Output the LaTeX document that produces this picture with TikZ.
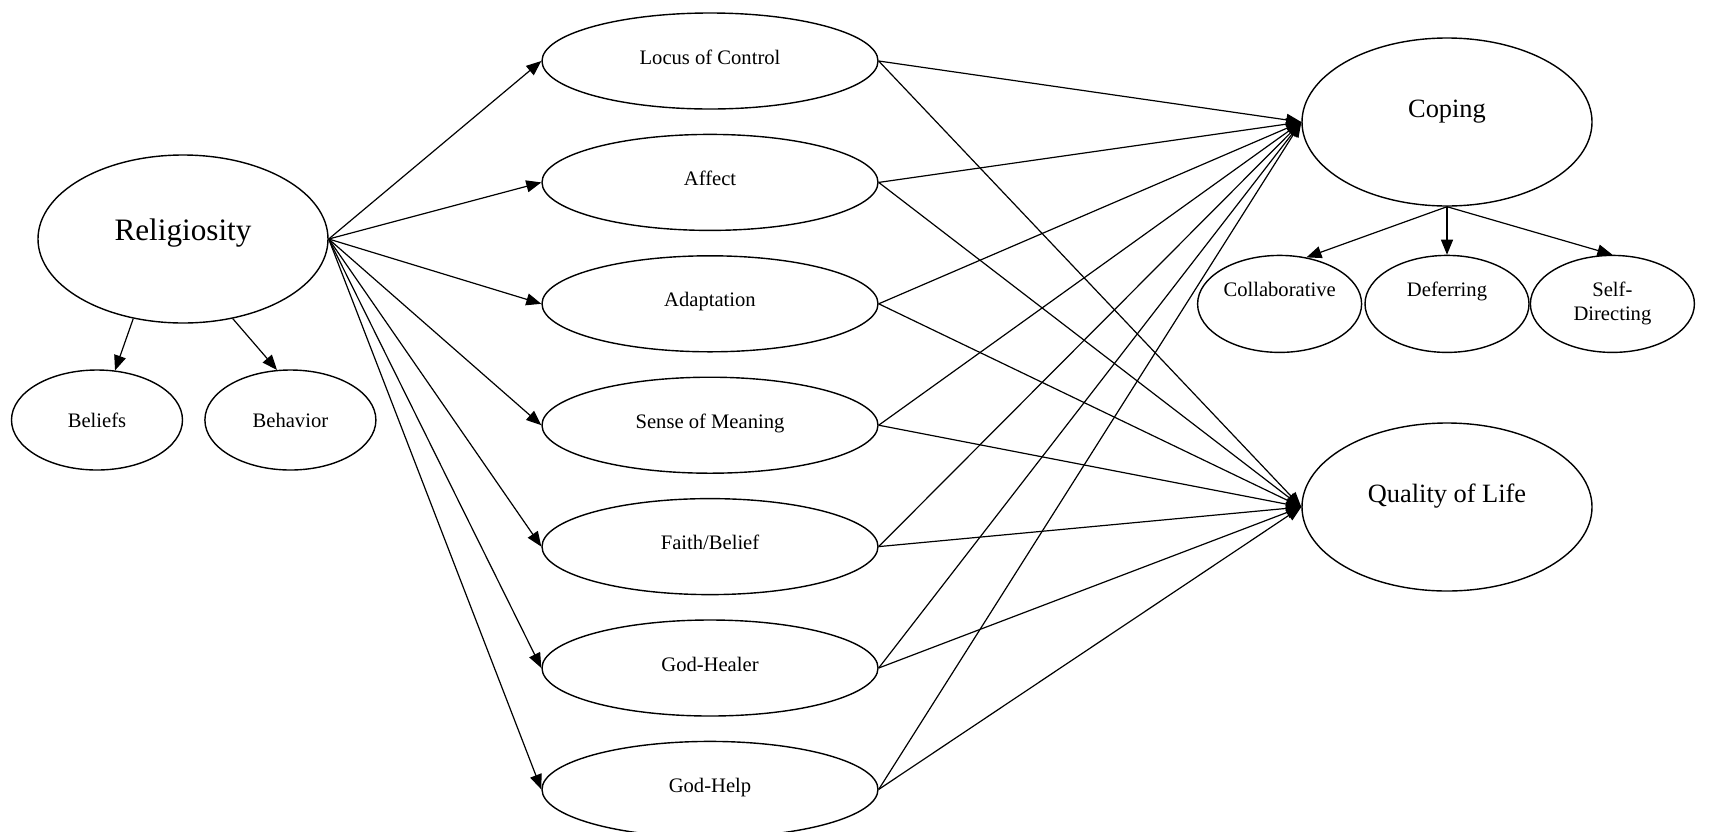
\documentclass[tikz,border=0pt]{standalone}
\usepackage{fontspec}
\setmainfont{Liberation Serif}
\usetikzlibrary{shapes,arrows.meta,positioning}

\begin{document}
\begin{tikzpicture}[
    x=0.5pt, y=-0.5pt,
    node distance=12pt,
    >={Triangle[length=7.5pt, width=6pt]},
    oval/.style={draw, ellipse, inner sep=0pt, line width=0.7pt, align=center},
    big/.style={oval, minimum width=145pt, minimum height=84pt, font=\fontsize{13.2}{15}\selectfont, text height=9pt, text depth=14pt},
    mid/.style={oval, minimum width=168pt, minimum height=48pt, font=\fontsize{10.3}{12}\selectfont, text height=7pt, text depth=4pt},
    small/.style={oval, minimum width=82pt, minimum height=48.5pt, font=\fontsize{10.3}{12}\selectfont},
    dim/.style={oval, minimum width=85.5pt, minimum height=50pt, font=\fontsize{10.3}{12}\selectfont},
    up/.style={text height=7pt, text depth=14pt},
    line/.style={->, line width=0.6pt}
]
    \useasboundingbox (0,0) rectangle (1723,831);

    % left side
    \node[big, font=\fontsize{15.6}{18}\selectfont, text height=11pt, text depth=9.5pt] (rel) at (183,239) {Religiosity};
    \node[dim] (bel) at (97,420) {Beliefs};
    \node[dim, right=10.5pt of bel] (beh) {Behavior};

    % middle column
    \node[mid] (loc) at (710,61) {Locus of Control};
    \node[mid, below=of loc] (aff) {Affect};
    \node[mid, below=of aff] (ada) {Adaptation};
    \node[mid, below=of ada] (mea) {Sense of Meaning};
    \node[mid, below=of mea] (fai) {Faith/Belief};
    \node[mid, below=of fai] (hea) {God-Healer};
    \node[mid, below=of hea] (hel) {God-Help};

    % right side
    \node[big] (cop) at (1447,122) {Coping};
    \node[small, up, below=24pt of cop] (def) {Deferring};
    \node[small, up, left=1pt of def] (col) {Collaborative};
    \node[small, right=0pt of def] (sdr) {Self-\\Directing};
    \node[big] (qol) at (1447,507) {Quality of Life};

    \draw[line] (rel.238) -- (bel.70);
    \draw[line] (rel.302) -- (beh.105);

    \draw[line] (rel.east) -- (loc.west);
    \draw[line] (rel.east) -- (aff.west);
    \draw[line] (rel.east) -- (ada.west);
    \draw[line] (rel.east) -- (mea.west);
    \draw[line] (rel.east) -- (fai.west);
    \draw[line] (rel.east) -- (hea.west);
    \draw[line] (rel.east) -- (hel.west);

    \draw[line] (loc.east) -- (cop.west);
    \draw[line] (aff.east) -- (cop.west);
    \draw[line] (ada.east) -- (cop.west);
    \draw[line] (mea.east) -- (cop.west);
    \draw[line] (fai.east) -- (cop.west);
    \draw[line] (hea.east) -- (cop.west);
    \draw[line] (hel.east) -- (cop.west);

    \draw[line] (loc.east) -- (qol.west);
    \draw[line] (aff.east) -- (qol.west);
    \draw[line] (ada.east) -- (qol.west);
    \draw[line] (mea.east) -- (qol.west);
    \draw[line] (fai.east) -- (qol.west);
    \draw[line] (hea.east) -- (qol.west);
    \draw[line] (hel.east) -- (qol.west);

    \draw[line] (cop.south) -- (col.60);
    \draw[line] (cop.south) -- (def.north);
    \draw[line] (cop.south) -- (sdr.north);
\end{tikzpicture}
\end{document}
